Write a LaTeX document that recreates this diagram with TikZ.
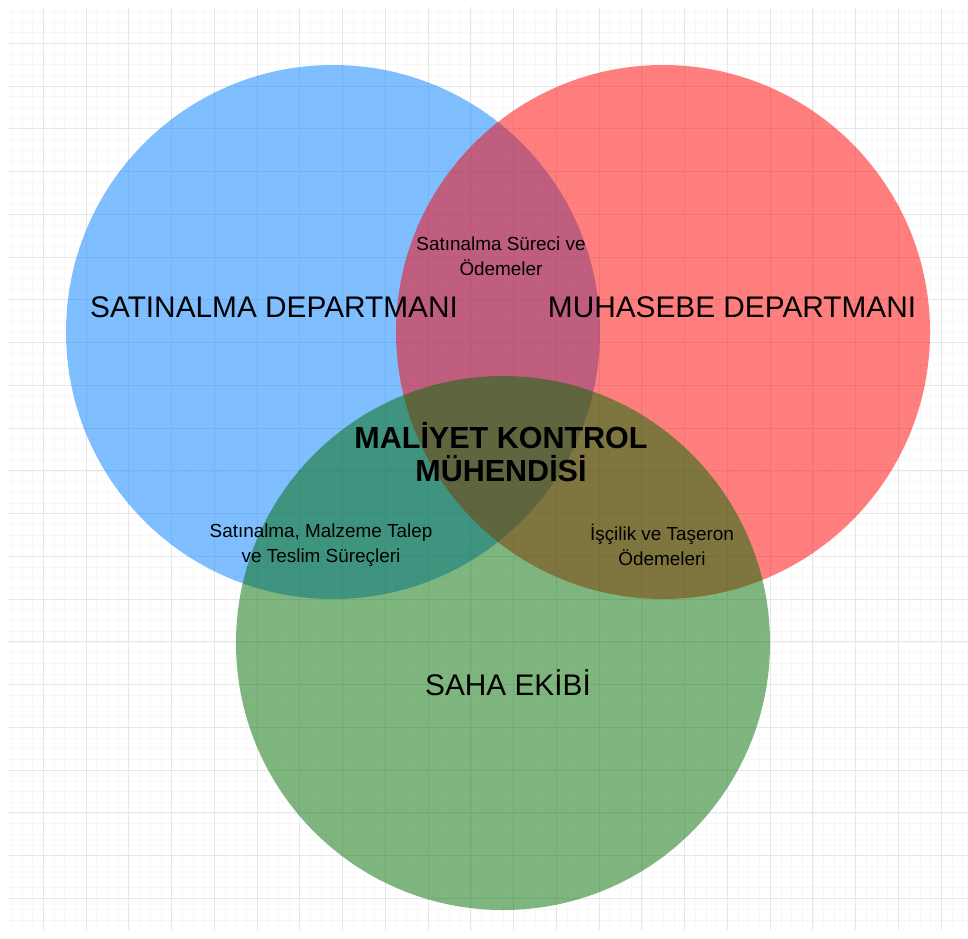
\documentclass[tikz,border=0pt]{standalone}
\usepackage{fontspec}
\setmainfont{Liberation Sans}
\definecolor{gridminor}{RGB}{247,247,247}
\definecolor{gridmajor}{RGB}{231,231,231}
\definecolor{setblue}{RGB}{0,127,255}
\definecolor{setred}{RGB}{255,0,0}
\definecolor{setgreen}{RGB}{0,108,0}
\tikzset{
  setdisc/.style={fill=#1, fill opacity=0.5, draw=none},
  biglabel/.style={text=black, font=\fontsize{29.8}{35}\selectfont, align=center, inner sep=0pt},
  centerlabel/.style={text=black, font=\bfseries\fontsize{30.5}{33}\selectfont, align=center, inner sep=0pt},
  pairlabel/.style={text=black, font=\fontsize{18.9}{24.5}\selectfont, align=center, inner sep=0pt}
}
\begin{document}
\begin{tikzpicture}[x=1pt, y=-1pt]
  \useasboundingbox (0,0) rectangle (968,938);
  \fill[white] (0,0) rectangle (968,938);

  % background grid: fine lines, every fourth one stronger
  \foreach \i in {1,...,90} {
    \pgfmathsetmacro{\gx}{0.5+10.69*\i}
    \draw[gridminor, line width=0.7pt] (\gx,7) -- (\gx,930);
  }
  \foreach \i in {1,...,86} {
    \pgfmathsetmacro{\gy}{0.5+10.69*\i}
    \draw[gridminor, line width=0.7pt] (8,\gy) -- (968,\gy);
  }
  \foreach \i in {1,...,22} {
    \pgfmathsetmacro{\gx}{0.5+42.76*\i}
    \draw[gridmajor, line width=1pt] (\gx,7) -- (\gx,930);
  }
  \foreach \i in {1,...,21} {
    \pgfmathsetmacro{\gy}{0.5+42.76*\i}
    \draw[gridmajor, line width=1pt] (8,\gy) -- (968,\gy);
  }

  % the three departments
  \coordinate (cBlue) at (333,332);
  \coordinate (cRed) at (663,332);
  \coordinate (cGreen) at (503,643);
  \fill[setdisc=setblue] (cBlue) circle (267);
  \fill[setdisc=setred] (cRed) circle (267);
  \fill[setdisc=setgreen] (cGreen) circle (267);

  % labels
  \node[biglabel] (satinalma) at (274,307) {SATINALMA DEPARTMANI};
  \node[biglabel] (muhasebe) at (732,307) {MUHASEBE DEPARTMANI};
  \node[biglabel] (saha) at (508,683) {SAHA EKİBİ};
  \node[centerlabel] (mkm) at (501,452) {MALİYET KONTROL\\MÜHENDİSİ};
  \node[pairlabel] (satmuh) at (501,256) {Satınalma Süreci ve\\Ödemeler};
  \node[pairlabel] (satsaha) at (321,545) {Satınalma, Malzeme Talep\\ve Teslim Süreçleri};
  \node[pairlabel] (muhsaha) at (662,545) {İşçilik ve Taşeron\\Ödemeleri};
\end{tikzpicture}
\end{document}
